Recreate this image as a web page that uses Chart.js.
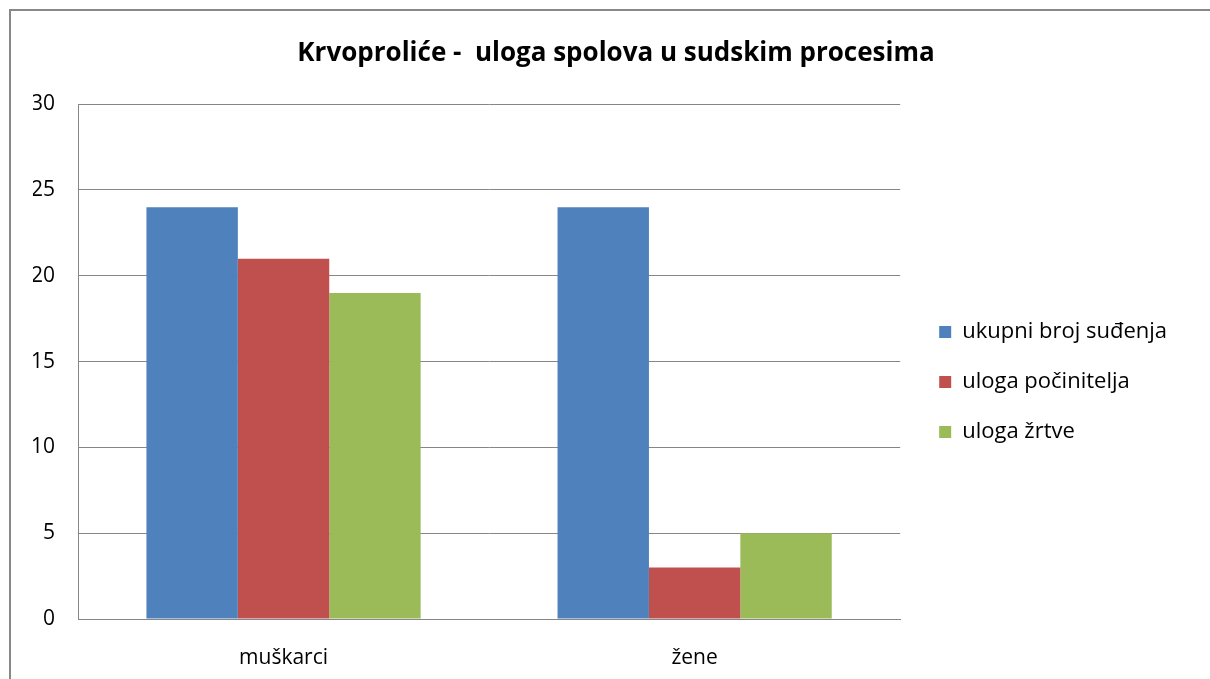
<!DOCTYPE html>
<html><head><meta charset="utf-8">
<script src="https://cdn.jsdelivr.net/npm/chart.js@4/dist/chart.umd.min.js"></script>
<style>
html,body{margin:0;padding:0;background:#fff;overflow:hidden;width:1210px;height:679px;}
#box{position:absolute;left:9px;top:9px;width:1230px;height:700px;border:2px solid #888;box-sizing:border-box;}
#wrap{position:absolute;left:11px;top:11px;width:1210px;height:668px;}
</style></head>
<body>
<div id="box"></div>
<div id="wrap"><canvas id="c"></canvas></div>
<script>
const categories = ['muškarci', 'žene'];
const seriesNames = ['ukupni broj suđenja', 'uloga počinitelja', 'uloga žrtve'];
const ukupniBrojSudjenja = [24, 24];
const ulogaPocinitelja = [21, 3];
const ulogaZrtve = [19, 5];
const yTicks = [0, 5, 10, 15, 20, 25, 30];
const colors = ['#4F81BD', '#C0504D', '#9BBB59'];
const titleText = 'Krvoproliće -  uloga spolova u sudskim procesima';

const FONT = '"Open Sans", Lato, sans-serif';
const values = [ukupniBrojSudjenja, ulogaPocinitelja, ulogaZrtve];

new Chart(document.getElementById('c'), {
  type: 'bar',
  data: {
    labels: categories,
    datasets: seriesNames.map((n, i) => ({
      label: n, data: values[i], backgroundColor: colors[i], borderWidth: 0,
      categoryPercentage: 0.667, barPercentage: 1.0, yAxisID: 'y'
    }))
  },
  options: {
    responsive: true, maintainAspectRatio: false, animation: false,
    layout: { padding: { left: 22, right: 22, top: 0, bottom: 0 } },
    plugins: {
      title: { display: true, text: titleText, color: '#000',
        font: { family: FONT, size: 26, weight: 'bold', lineHeight: 1.2 },
        padding: { top: 27, bottom: 35 } },
      legend: { position: 'right', align: 'center', maxWidth: 500,
        title: { display: true, text: '', padding: { top: 37, bottom: 37 }, font: { size: 0.001, lineHeight: 0 } },
        labels: { boxWidth: 12, boxHeight: 12, padding: 28, color: '#000',
          font: { family: FONT, size: 22, lineHeight: 1.0 } } },
      tooltip: { enabled: false }
    },
    scales: {
      x: {
        afterFit: (s) => { s.height = 60; },
        grid: { display: false, drawTicks: false },
        border: { display: true, color: '#868686' },
        ticks: { color: '#000', padding: 26, font: { family: FONT, size: 21 } }
      },
      y: {
        min: yTicks[0], max: yTicks[yTicks.length - 1],
        afterFit: (s) => { s.width = 45; },
        afterBuildTicks: (s) => { s.ticks = yTicks.map(v => ({ value: v })); },
        grid: { color: '#868686', drawTicks: false },
        border: { display: true, color: '#868686' },
        ticks: { color: '#000', padding: 23, font: { family: FONT, size: 21 } }
      },
      gap: {
        type: 'linear', position: 'right', display: true, weight: 0,
        afterFit: (s) => { s.width = 11; },
        grid: { display: false, drawTicks: false },
        border: { display: false },
        ticks: { display: false }
      },
      outerGap: {
        type: 'linear', position: 'right', display: true, weight: 3000,
        afterFit: (s) => { s.width = 22; },
        grid: { display: false, drawTicks: false },
        border: { display: false },
        ticks: { display: false }
      }
    }
  }
});
</script>
</body></html>
